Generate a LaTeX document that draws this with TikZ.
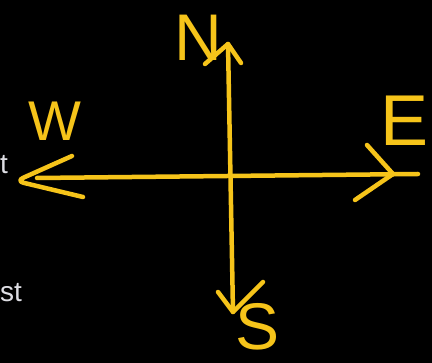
\documentclass[tikz,border=0pt]{standalone}
\usepackage{fontspec}
\setmainfont{Liberation Sans}
\usetikzlibrary{calc}
\definecolor{chalk}{RGB}{246,196,26}
\definecolor{slide}{RGB}{222,222,228}
\tikzset{
  stroke/.style={
    chalk,
    line width=4.5pt,
    line cap=round,
    line join=round
  },
  letter/.style={
    text=chalk,
    font=\fontsize{64}{64}\selectfont,
    inner sep=0pt
  },
  cut/.style={
    text=slide,
    font=\fontsize{28}{28}\selectfont,
    inner sep=0pt
  }
}

\begin{document}
\begin{tikzpicture}[x=1pt, y=-1pt]
    % 背景
    \fill[black] (0,0) rectangle (432,363);
    \useasboundingbox (0,0) rectangle (432,363);

    % 端点
    \coordinate (Wend) at (37,178);
    \coordinate (Eend) at (418,174);
    \coordinate (Nend) at (228,44);
    \coordinate (Send) at (233,312);

    % 軸
    \draw[stroke] (Wend) -- (Eend);
    \draw[stroke] (Nend) -- (Send);

    % 矢じり
    \draw[stroke, rounded corners=8pt] (72,156) -- (16,181) -- (83,197);
    \draw[stroke] (367,145) -- (393,174) -- (355,200);
    \draw[stroke] (205,64) -- (Nend) -- (241,63);
    \draw[stroke] (218,292) -- (Send) -- (263,282);

    % 文字
    \node[letter, font=\fontsize{56}{56}\selectfont] (W) at (55,121) {W};
    \node[letter, font=\fontsize{66}{66}\selectfont] (N) at (198,38) {N};
    \node[letter, font=\fontsize{72}{72}\selectfont] (E) at (405,121) {E};
    \node[letter, font=\fontsize{66}{66}\selectfont] (S) at (258,327) {S};

    % 左端の文字
    \node[cut, anchor=base west] (t) at (0,174) {t};
    \node[cut, anchor=base west] (st) at (0,302) {st};
\end{tikzpicture}
\end{document}
